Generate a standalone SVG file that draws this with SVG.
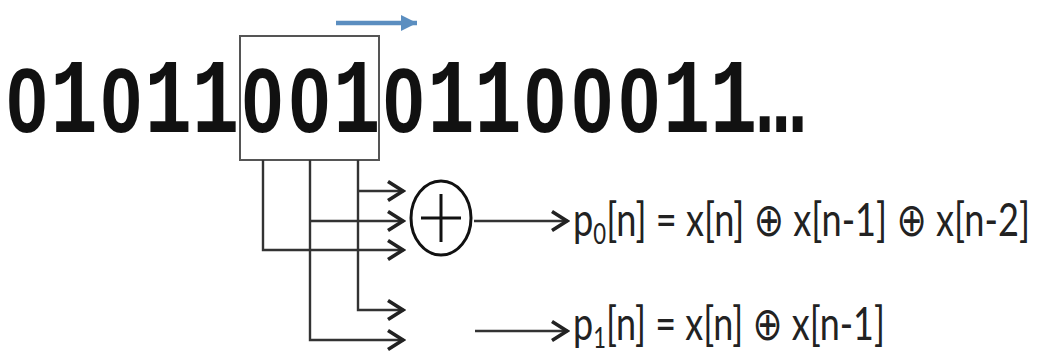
<svg xmlns="http://www.w3.org/2000/svg" width="1040" height="354" viewBox="0 0 1040 354">
<defs>
<marker id="chev" markerUnits="userSpaceOnUse" markerWidth="22" markerHeight="24" viewBox="0 0 22 24" refX="20" refY="12" orient="auto">
<path d="M4,2.5 L19,12 L4,21.5" fill="none" stroke="#222" stroke-width="3.6" stroke-linejoin="miter"/>
</marker>
<marker id="blue" markerUnits="userSpaceOnUse" markerWidth="20" markerHeight="20" viewBox="0 0 20 20" refX="18" refY="10" orient="auto">
<path d="M2,2 L18,10 L2,18 Z" fill="#5b8ec0"/>
</marker>
</defs>
<style>
.o{font-family:"Liberation Mono",monospace;font-weight:bold;font-size:78.3px;fill:#111;text-anchor:middle}
.z{font-family:"Liberation Sans",sans-serif;font-weight:bold;font-size:91px;fill:#111;text-anchor:middle}
.eq{font-family:Lato,"DejaVu Sans",sans-serif;font-size:36px;fill:#222}
.ln{fill:none;stroke:#333;stroke-width:2.4}
</style>
<rect width="1040" height="354" fill="#fff"/>
<g id="bitstream">
<text class="z" transform="translate(27,132) scale(0.82,1)">0</text>
<text class="o" transform="translate(74.1,132) scale(1,1.35)">1</text>
<text class="z" transform="translate(121.2,132) scale(0.82,1)">0</text>
<text class="o" transform="translate(168.3,132) scale(1,1.35)">1</text>
<text class="o" transform="translate(215.4,132) scale(1,1.35)">1</text>
<text class="z" transform="translate(262.5,132) scale(0.82,1)">0</text>
<text class="z" transform="translate(309.6,132) scale(0.82,1)">0</text>
<text class="o" transform="translate(356.7,132) scale(1,1.35)">1</text>
<text class="z" transform="translate(403.8,132) scale(0.82,1)">0</text>
<text class="o" transform="translate(450.9,132) scale(1,1.35)">1</text>
<text class="o" transform="translate(498,132) scale(1,1.35)">1</text>
<text class="z" transform="translate(545.1,132) scale(0.82,1)">0</text>
<text class="z" transform="translate(592.2,132) scale(0.82,1)">0</text>
<text class="z" transform="translate(639.3,132) scale(0.82,1)">0</text>
<text class="o" transform="translate(686.4,132) scale(1,1.35)">1</text>
<text class="o" transform="translate(733.5,132) scale(1,1.35)">1</text>
<text class="o" transform="translate(781,132) scale(1,1.35)">…</text>
</g>
<g id="window">
<rect x="240" y="36" width="139" height="124" fill="none" stroke="#555" stroke-width="2"/>
</g>
<g id="shift-arrow">
<line x1="336" y1="23" x2="417" y2="23" stroke="#5b8ec0" stroke-width="4.5" marker-end="url(#blue)"/>
</g>
<g id="xor">
<ellipse cx="441" cy="218" rx="30" ry="37" fill="none" stroke="#111" stroke-width="3"/>
<line x1="421" y1="218" x2="461" y2="218" stroke="#111" stroke-width="3"/>
<line x1="441" y1="194" x2="441" y2="242" stroke="#111" stroke-width="3"/>
</g>
<g id="connectors">
<path class="ln" d="M263,160 V250 H404" marker-end="url(#chev)"/>
<path class="ln" d="M310,160 V340 H404" marker-end="url(#chev)"/>
<path class="ln" d="M310,221 H404" marker-end="url(#chev)"/>
<path class="ln" d="M358,160 V310 H404" marker-end="url(#chev)"/>
<path class="ln" d="M358,191 H404" marker-end="url(#chev)"/>
<path class="ln" d="M474,221 H568" marker-end="url(#chev)"/>
<path class="ln" d="M475,331 H568" marker-end="url(#chev)"/>
</g>
<g id="eq0">
<text class="eq" transform="translate(573,236) scale(1,1.3)" x="0" y="0" textLength="457" lengthAdjust="spacingAndGlyphs">p<tspan font-size="22px" dy="6">0</tspan><tspan dy="-6">[n] = x[n] ⊕ x[n-1] ⊕ x[n-2]</tspan></text>
</g>
<g id="eq1">
<text class="eq" transform="translate(573,340) scale(1,1.3)" x="0" y="0" textLength="312" lengthAdjust="spacingAndGlyphs">p<tspan font-size="22px" dy="6">1</tspan><tspan dy="-6">[n] = x[n] ⊕ x[n-1]</tspan></text>
</g>
</svg>
